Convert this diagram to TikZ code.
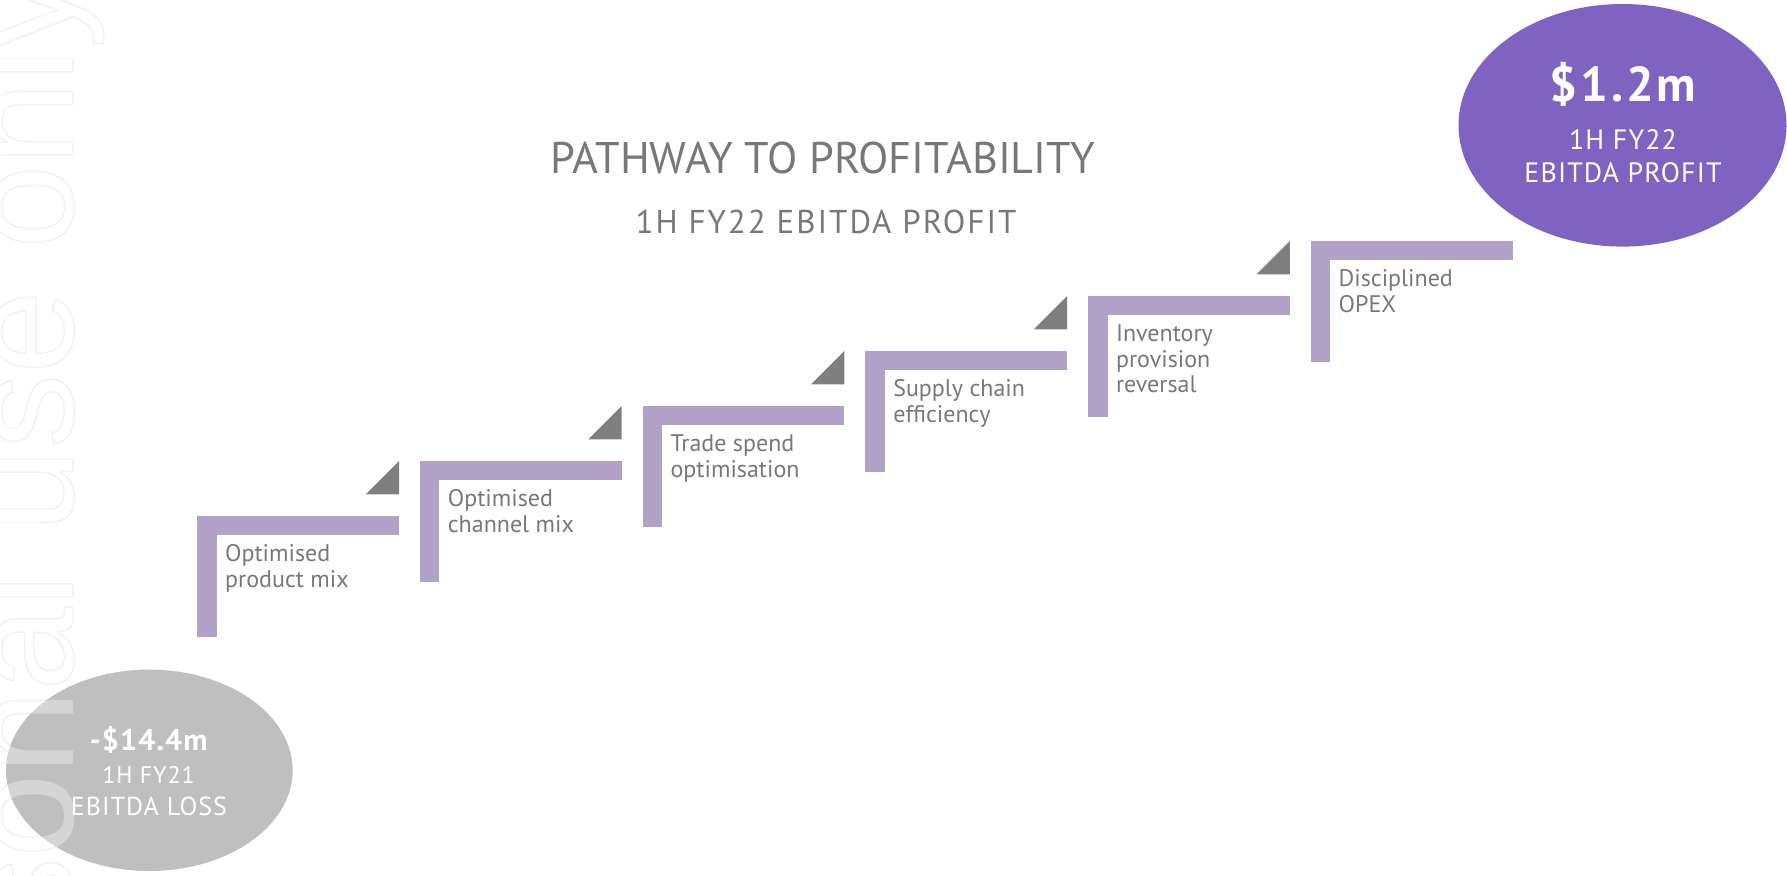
\documentclass[tikz,border=0pt]{standalone}
\usepackage{fontspec}
\setmainfont{PT Sans}
\newfontfamily\wmfont{Liberation Sans}
\newfontfamily\lsA[LetterSpace=6]{PT Sans}
\newfontfamily\lsB[LetterSpace=4]{PT Sans}
\usetikzlibrary{shapes.geometric}
\definecolor{barcol}{HTML}{B3A2C8}
\definecolor{tricol}{HTML}{7F7F7F}
\definecolor{txtcol}{HTML}{787878}
\definecolor{profitcol}{HTML}{8062C1}
\definecolor{losscol}{HTML}{BFBFBF}
\begin{document}
\begin{tikzpicture}[x=1pt,y=-1pt,
  steptext/.style={inner sep=0pt, anchor=base west, text=txtcol, font=\fontsize{24}{25.5}\selectfont},
  bubbletext/.style={inner sep=0pt, anchor=base, text=white},
  titletext/.style={inner sep=0pt, anchor=base, text=txtcol}]
\useasboundingbox (0,0) rectangle (1787,875);
\clip (0,0) rectangle (1787,875);
% steps
\foreach \i/\la/\lb/\lc in {0/Optimised/product mix/,1/Optimised/channel mix/,2/Trade spend/optimisation/,3/Supply chain/efficiency/,4/Inventory/provision/reversal,5/Disciplined/OPEX/}{
  \pgfmathsetmacro\X{197.3+222.7*\i}
  \pgfmathsetmacro\Y{515.7-55*\i}
  \fill[barcol] (\X,\Y) rectangle ++(201.7,19.3);
  \fill[barcol] (\X,\Y) rectangle ++(19.4,121);
  \node[steptext] (step\i) at (\X+27.7,\Y+46) {\begin{tabular}[t]{@{}l@{}}\la\\\lb\\\lc\end{tabular}};
  \ifnum\i<5
    \fill[tricol] (\X+201.7,\Y-21.4) -- (\X+201.7,\Y-54.7) -- (\X+168.4,\Y-21.4) -- cycle;
  \fi
}
% title
\node[titletext, font=\fontsize{44.3}{48}\selectfont] (title) at (823,173) {PATHWAY TO PROFITABILITY};
\node[titletext, font=\lsA\fontsize{33}{36}\selectfont] (subtitle) at (826,233) {1H FY22 EBITDA PROFIT};
% profit bubble
\node[ellipse, fill=profitcol, minimum width=328, minimum height=242.6, inner sep=0] (profit) at (1622.5,125.3) {};
\node[bubbletext, font=\lsA\fontsize{49}{52}\bfseries\selectfont] (profitval) at (1623,101.7) {\$1.2m};
\node[bubbletext, font=\lsB\fontsize{28}{30}\selectfont] (profitl1) at (1623,149) {1H FY22};
\node[bubbletext, font=\lsB\fontsize{28}{30}\selectfont] (profitl2) at (1623,182.7) {EBITDA PROFIT};
% loss bubble
\node[ellipse, fill=losscol, minimum width=286.7, minimum height=201.4, inner sep=0] (loss) at (149.3,770.3) {};
% watermark
\node[rotate=90, anchor=base east, inner sep=0pt, text=white, text opacity=0.35,
      font=\wmfont\fontsize{150}{150}\selectfont] (wm) at (72.7,-27)
      {\special{pdf:literal direct 2 Tr 1.3 w 0.84 G}For personal use only};
\node[bubbletext, font=\lsB\fontsize{30}{32}\bfseries\selectfont] (lossval) at (148.7,750) {-\$14.4m};
\node[bubbletext, font=\lsB\fontsize{24}{26}\selectfont] (lossl1) at (148.5,783.3) {1H FY21};
\node[bubbletext, font=\lsB\fontsize{26}{28}\selectfont] (lossl2) at (149,815) {EBITDA LOSS};
\end{tikzpicture}
\end{document}
